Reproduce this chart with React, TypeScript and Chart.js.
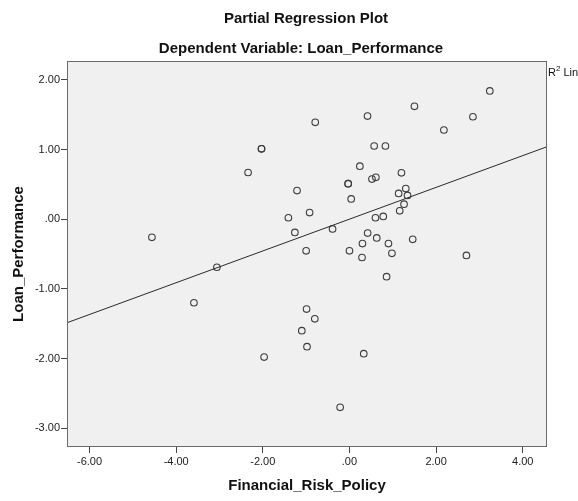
import React, { useEffect, useRef } from "react";
import { Chart, registerables } from "chart.js";

Chart.register(...registerables);

// ---- data ----
const RISK_POLICY = [
  -4.56, -3.06, -3.59, -1.97, -2.03, -2.03, -2.34, -1.21, -1.41, -0.92,
  -1.26, -1.0, -0.79, -0.99, -0.8, -1.1, -0.98, -0.215, 0.33, 0.857,
  3.24, 1.5, 0.417, 2.85, 2.18, 0.57, 0.83, 0.24, 1.2, 0.52,
  0.61, -0.03, -0.03, 1.3, 1.135, 1.34, 1.26, 1.16, 0.04, 0.6,
  0.78, -0.39, 0.42, 0.63, 0.3, 0.9, 1.46, 0.0, 0.29, 0.98, 2.7,
];
const LOAN_PERFORMANCE = [
  -0.26, -0.69, -1.2, -1.98, 1.01, 1.01, 0.67, 0.41, 0.02, 0.095,
  -0.19, -0.455, 1.39, -1.29, -1.43, -1.6, -1.83, -2.7, -1.93, -0.825,
  1.84, 1.62, 1.48, 1.47, 1.28, 1.05, 1.05, 0.76, 0.665, 0.575,
  0.6, 0.51, 0.51, 0.44, 0.37, 0.34, 0.215, 0.12, 0.29, 0.02,
  0.04, -0.14, -0.2, -0.27, -0.35, -0.35, -0.29, -0.455, -0.55, -0.49, -0.52,
];
const X_TICKS = [-6, -4, -2, 0, 2, 4];
const Y_TICKS = [-3, -2, -1, 0, 1, 2];
const X_MIN = -6.52;
const X_MAX = 4.56;
const Y_MIN = -3.27;
const Y_MAX = 2.27;
const FIT_SLOPE = 0.228;
const FIT_INTERCEPT = 0.0;

const TITLE = "Partial Regression Plot";
const SUBTITLE = "Dependent Variable: Loan_Performance";
const X_TITLE = "Financial_Risk_Policy";
const Y_TITLE = "Loan_Performance";

const FONT = '"Liberation Sans", Arial, sans-serif';

function fmt(v: number): string {
  const s = Math.abs(v).toFixed(2);
  const t = s.startsWith("0") ? s.slice(1) : s;
  return (v < 0 ? "-" : "") + t;
}

const decorPlugin = {
  id: "decor",
  beforeDraw(chart: any) {
    const { ctx, chartArea: a } = chart;
    ctx.save();
    ctx.fillStyle = "#f0f0f0";
    ctx.fillRect(a.left, a.top, a.right - a.left, a.bottom - a.top);
    ctx.restore();
  },
  afterDraw(chart: any) {
    const { ctx, chartArea: a } = chart;
    ctx.save();
    ctx.strokeStyle = "#6a6a6a";
    ctx.lineWidth = 1;
    ctx.strokeRect(a.left + 0.5, a.top + 0.5, a.right - a.left - 1, a.bottom - a.top - 1);

    const cx = (a.left + a.right) / 2;
    ctx.fillStyle = "#111";
    ctx.textAlign = "center";
    ctx.textBaseline = "alphabetic";
    ctx.font = `bold 15px ${FONT}`;
    ctx.fillText(TITLE, cx - 1, 23);
    ctx.fillText(SUBTITLE, cx - 6, 53);

    ctx.fillText(X_TITLE, cx, 490);

    ctx.save();
    ctx.translate(23, (a.top + a.bottom) / 2);
    ctx.rotate(-Math.PI / 2);
    ctx.fillText(Y_TITLE, 0, 0);
    ctx.restore();

    // truncated legend "R² Linear"
    ctx.textAlign = "left";
    ctx.font = `11px ${FONT}`;
    ctx.fillStyle = "#111";
    const lx = a.right + 1;
    ctx.fillText("R", lx, 76);
    const rw = ctx.measureText("R").width;
    ctx.font = `8px ${FONT}`;
    ctx.fillText("2", lx + rw, 71);
    const w2 = ctx.measureText("2").width;
    ctx.font = `11px ${FONT}`;
    ctx.fillText(" Lin", lx + rw + w2, 76);
    ctx.restore();
  },
};

export default function App() {
  const ref = useRef<HTMLCanvasElement | null>(null);

  useEffect(() => {
    if (!ref.current) return;
    const points = RISK_POLICY.map((x, i) => ({ x, y: LOAN_PERFORMANCE[i] }));
    const fit = [X_MIN, X_MAX].map((x) => ({ x, y: FIT_INTERCEPT + FIT_SLOPE * x }));

    const chart = new Chart(ref.current, {
      type: "scatter",
      data: {
        datasets: [
          {
            type: "line",
            data: fit,
            borderColor: "#2a2a2a",
            borderWidth: 1,
            pointRadius: 0,
            fill: false,
          } as any,
          {
            data: points,
            pointStyle: "circle",
            pointRadius: 3.3,
            pointBackgroundColor: "rgba(0,0,0,0)",
            pointBorderColor: "#3c3c3c",
            pointBorderWidth: 1.1,
          },
        ],
      },
      options: {
        animation: false,
        responsive: false,
        devicePixelRatio: 1,
        layout: { padding: { top: 61, right: 31, left: 0, bottom: 0 } },
        plugins: {
          legend: { display: false },
          title: { display: false },
          tooltip: { enabled: false },
        },
        scales: {
          x: {
            type: "linear",
            min: X_MIN,
            max: X_MAX,
            afterBuildTicks: (s: any) => {
              s.ticks = X_TICKS.map((v) => ({ value: v }));
            },
            afterFit: (s: any) => {
              s.height = 54;
            },
            ticks: {
              callback: (v: any) => fmt(Number(v)),
              font: { family: FONT, size: 11 },
              color: "#222",
              padding: 2,
              maxRotation: 0,
              autoSkip: false,
            },
            grid: {
              drawOnChartArea: false,
              drawTicks: true,
              tickLength: 6,
              tickColor: "#444",
            },
            border: { display: false },
          },
          y: {
            type: "linear",
            min: Y_MIN,
            max: Y_MAX,
            afterBuildTicks: (s: any) => {
              s.ticks = Y_TICKS.map((v) => ({ value: v }));
            },
            afterFit: (s: any) => {
              s.width = 67;
            },
            ticks: {
              callback: (v: any) => fmt(Number(v)),
              font: { family: FONT, size: 11 },
              color: "#222",
              padding: 1,
              autoSkip: false,
            },
            grid: {
              drawOnChartArea: false,
              drawTicks: true,
              tickLength: 6,
              tickColor: "#444",
            },
            border: { display: false },
          },
        },
      },
      plugins: [decorPlugin],
    });
    return () => chart.destroy();
  }, []);

  return (
    <div style={{ position: "fixed", left: 0, top: 0, width: 578, height: 501, background: "#fff" }}>
      <canvas ref={ref} width={578} height={501} style={{ width: 578, height: 501, display: "block" }} />
    </div>
  );
}
